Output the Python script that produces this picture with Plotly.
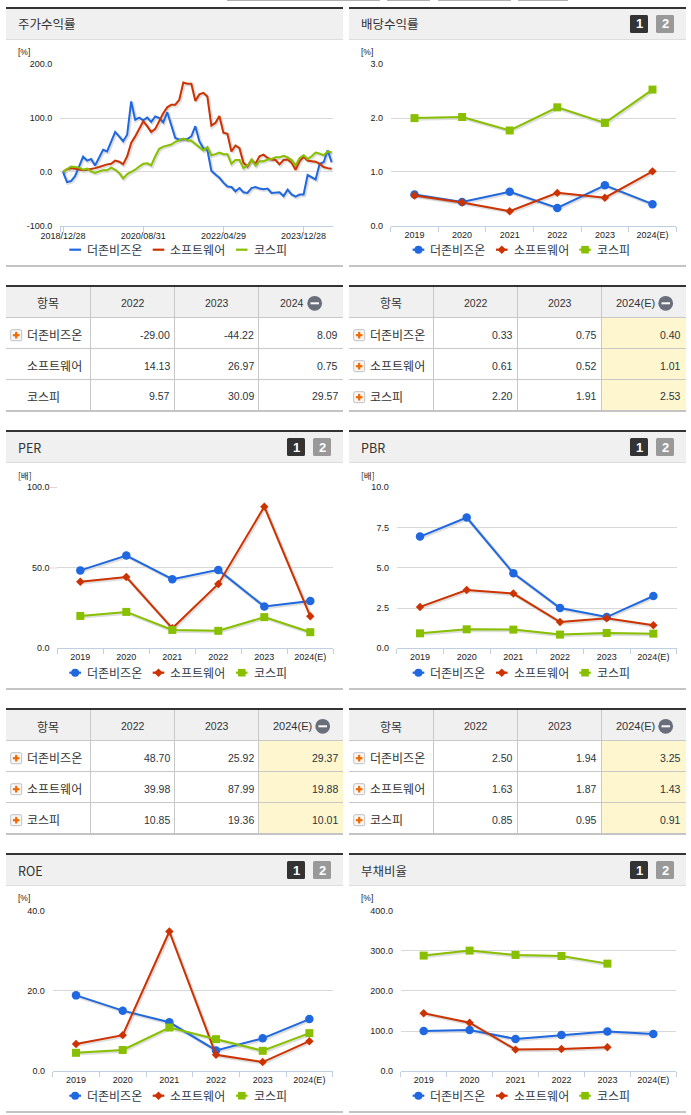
import plotly.graph_objects as go

W, H = 691, 1115

# ---------- data ----------
SERIES = ["더존비즈온", "소프트웨어", "코스피"]
COLORS = ["#2068e0", "#cc3300", "#88c000"]

RET_TICK_LABELS = ["2018/12/28", "2020/08/31", "2022/04/29", "2023/12/28"]
RET_TICK_INDEX = [0, 20, 40, 60]
RET_BLUE = [0, -19, -17, -8, 10, 28, 21, 24, 12, 26, 41, 38, 57, 74, 66, 57, 69, 131, 97, 101, 96, 101, 93, 103,
            100, 92, 111, 88, 63, 60, 61, 61, 66, 85, 57, 44, 41, 2, -5, -11, -20, -27, -28, -36, -30, -38, -39,
            -30, -28, -31, -32, -31, -39, -38, -38, -45, -33, -42, -46, -42, -42, -6, -10, -14, 15, 18, 40, 18]
RET_RED = [0, 5, 7, 6, 5, 3, 4, 5, 7, 9, 12, 14, 15, 21, 19, 14, 29, 54, 66, 81, 94, 85, 74, 80,
           94, 109, 120, 125, 125, 134, 166, 164, 164, 132, 144, 147, 140, 86, 91, 104, 73, 71, 38, 49, 44, 17,
           10, 22, 15, 29, 32, 26, 23, 22, 14, 22, 23, 17, 4, 20, 28, 21, 20, 19, 15, 9, 7, 6]
RET_GREEN = [0, 5, 10, 9, 8, 4, 6, 1, -2, 1, 3, 3, 8, 4, -2, -12, -4, 0, 4, 10, 15, 16, 12, 29,
             43, 47, 49, 51, 56, 59, 62, 59, 58, 52, 46, 40, 46, 31, 33, 36, 33, 33, 15, 22, 22, 7, 12, 23,
             12, 20, 20, 23, 24, 27, 27, 30, 27, 22, 12, 26, 31, 24, 29, 36, 34, 31, 38, 36]

YEARS = ["2019", "2020", "2021", "2022", "2023", "2024(E)"]
DIV = [[0.58, 0.44, 0.63, 0.33, 0.75, 0.40], [0.56, 0.43, 0.27, 0.61, 0.52, 1.01], [2.00, 2.02, 1.77, 2.20, 1.91, 2.53]]
PER = [[48.4, 57.6, 42.9, 48.70, 25.92, 29.37], [41.4, 44.3, 12.4, 39.98, 87.99, 19.88], [20.1, 22.6, 11.4, 10.85, 19.36, 10.01]]
PBR = [[6.94, 8.12, 4.66, 2.50, 1.94, 3.25], [2.57, 3.62, 3.40, 1.63, 1.87, 1.43], [0.93, 1.18, 1.16, 0.85, 0.95, 0.91]]
ROE = [[18.9, 15.1, 12.2, 5.2, 8.2, 13.0], [6.8, 9.0, 34.8, 4.1, 2.3, 7.5], [4.6, 5.3, 10.9, 8.0, 5.1, 9.5]]
DEBT = [[100.4, 103, 80.5, 90.5, 99, 93], [144.4, 121, 54, 55.6, 59.8, None], [288, 300.4, 289.6, 287, 268, None]]

TABLE_RET = [["-29.00", "-44.22", "8.09"], ["14.13", "26.97", "0.75"], ["9.57", "30.09", "29.57"]]
TABLE_DIV = [["0.33", "0.75", "0.40"], ["0.61", "0.52", "1.01"], ["2.20", "1.91", "2.53"]]
TABLE_PER = [["48.70", "25.92", "29.37"], ["39.98", "87.99", "19.88"], ["10.85", "19.36", "10.01"]]
TABLE_PBR = [["2.50", "1.94", "3.25"], ["1.63", "1.87", "1.43"], ["0.85", "0.95", "0.91"]]

# ---------- style ----------
KR = "'Noto Sans CJK KR', 'Noto Sans', sans-serif"
NUM = "'Liberation Sans', Arial, sans-serif"
TXT = "#333333"
AXIS = "#c0d0e0"
GRID = "#d8d8d8"
BORDER = "#c8c8c8"
SHADOW = "rgba(0,0,0,0.13)"

shapes, annos, traces = [], [], []
layout = {}


def px(x):
    return x / W


def py(y):
    return 1 - y / H


def rect(x0, y0, x1, y1, fill, layer="below"):
    shapes.append(dict(type="rect", xref="paper", yref="paper", x0=px(x0), x1=px(x1), y0=py(y0), y1=py(y1),
                       fillcolor=fill, line=dict(width=0), layer=layer))


def text(x, y, s, size=12, color=TXT, font=KR, anchor="left"):
    annos.append(dict(x=px(x), y=py(y), xref="paper", yref="paper", text=s, showarrow=False, xanchor=anchor,
                      yanchor="middle", align=anchor, borderpad=0, font=dict(size=size, color=color, family=font)))


def round_rect(x0, y0, x1, y1, r, fill, line=None):
    def P(x, y):
        return f"{px(x):.6f},{py(y):.6f}"
    d = (f"M{P(x0 + r, y0)} L{P(x1 - r, y0)} Q{P(x1, y0)} {P(x1, y0 + r)} L{P(x1, y1 - r)} Q{P(x1, y1)} {P(x1 - r, y1)} "
         f"L{P(x0 + r, y1)} Q{P(x0, y1)} {P(x0, y1 - r)} L{P(x0, y0 + r)} Q{P(x0, y0)} {P(x0 + r, y0)} Z")
    shapes.append(dict(type="path", xref="paper", yref="paper", path=d, fillcolor=fill,
                       line=dict(width=1 if line else 0, color=line or fill)))


def circle(cx, cy, r, fill):
    shapes.append(dict(type="circle", xref="paper", yref="paper", x0=px(cx - r), x1=px(cx + r), y0=py(cy - r),
                       y1=py(cy + r), fillcolor=fill, line=dict(width=0)))


def diamond(cx, cy, r, fill):
    d = f"M{px(cx - r):.6f},{py(cy):.6f} L{px(cx):.6f},{py(cy - r):.6f} L{px(cx + r):.6f},{py(cy):.6f} L{px(cx):.6f},{py(cy + r):.6f} Z"
    shapes.append(dict(type="path", xref="paper", yref="paper", path=d, fillcolor=fill, line=dict(width=0)))


def panel(x0, top, title, buttons=True):
    x1 = x0 + 337
    rect(x0, top, x1, top + 2, "#333333")
    rect(x0, top + 2, x1, top + 32, "#f0f0f0")
    rect(x0, top + 32, x1, top + 33, "#dddddd")
    rect(x0, top + 258, x1, top + 260, "#c4c4c4")
    text(x0 + 11, top + 17, title, size=12.5)
    if buttons:
        bx = x0 + 281
        round_rect(bx, top + 8, bx + 18, top + 26, 1.5, "#333333")
        round_rect(bx + 26, top + 8, bx + 44, top + 26, 1.5, "#999999")
        text(bx + 9, top + 17, "<b>1</b>", size=13, color="white", font=NUM, anchor="center")
        text(bx + 35, top + 17, "<b>2</b>", size=13, color="white", font=NUM, anchor="center")


def legend(dx, y, markers=True):
    glyph_x = [(69.3, 81), (152.7, 164.3), (236, 247.5)]
    text_x = [86, 169.2, 252.5]
    for i, name in enumerate(SERIES):
        g0, g1 = glyph_x[i]
        rect(dx + g0, y - 1.1, dx + g1, y + 1.1, COLORS[i], layer="above")
        cx = dx + (g0 + g1) / 2
        if markers:
            if i == 0:
                circle(cx, y, 4, COLORS[i])
            elif i == 1:
                diamond(cx, y, 4.3, COLORS[i])
            else:
                rect(cx - 3.8, y - 3.8, cx + 3.8, y + 3.8, COLORS[i], layer="above")
        text(dx + text_x[i], y - 0.6, name, size=12, color="#2f3a48")


def axes(n, left, right, top, bottom, ymin, ymax, yvals, ylabels):
    # subplots 1-6 hold the soft line shadows, 7-12 the visible axes drawn on top of them
    m = n + 6
    layout[f"xaxis{m}"] = dict(domain=[px(left), px(right)], anchor=f"y{m}", showgrid=False, zeroline=False,
                               showline=True, linecolor=AXIS, linewidth=1, ticks="outside", ticklen=5,
                               tickwidth=1, tickcolor=AXIS, ticklabelstandoff=0,
                               tickfont=dict(size=9, color="#222222", family=NUM), fixedrange=True)
    layout[f"yaxis{m}"] = dict(domain=[py(bottom), py(top)], anchor=f"x{m}", range=[ymin, ymax], tickmode="array",
                               tickvals=yvals, ticktext=ylabels, showgrid=True, gridcolor=GRID, gridwidth=1,
                               zeroline=False, showline=False, ticks="outside", ticklen=5, tickcolor="rgba(0,0,0,0)",
                               tickfont=dict(size=9, color="#222222", family=NUM), fixedrange=True)
    sfx = "" if n == 1 else str(n)
    layout["xaxis" + sfx] = dict(domain=[px(left + 1), px(right + 1)], anchor="y" + sfx, visible=False, fixedrange=True)
    layout["yaxis" + sfx] = dict(domain=[py(bottom + 1), py(top + 1)], anchor="x" + sfx, range=[ymin, ymax],
                                 visible=False, fixedrange=True)
    return f"x{m}", f"y{m}", "x" + sfx, "y" + sfx


def shadow_trace(xs, ys, xa, ya):
    traces.append(go.Scatter(x=xs, y=ys, mode="lines", xaxis=xa, yaxis=ya, showlegend=False, hoverinfo="skip",
                             line=dict(color=SHADOW, width=3.5)))


def year_chart(n, left, right, top, bottom, ymax, yvals, ylabels, data):
    xa, ya, sx, sy = axes(n, left, right, top, bottom, 0, ymax, yvals, ylabels)
    cat = dict(type="category", categoryorder="array", categoryarray=YEARS, range=[-0.5, 5.5])
    layout["xaxis" + xa[1:]].update(tickson="boundaries", **cat)
    layout["xaxis" + sx[1:]].update(**cat)
    symbols = ["circle", "diamond", "square"]
    sizes = [8.5, 6.5, 8]
    for i, name in enumerate(SERIES):
        shadow_trace(YEARS, data[i], sx, sy)
        traces.append(go.Scatter(x=YEARS, y=data[i], name=name, mode="lines+markers", xaxis=xa, yaxis=ya,
                                 showlegend=False, cliponaxis=False,
                                 line=dict(color=COLORS[i], width=2),
                                 marker=dict(symbol=symbols[i], size=sizes[i], color=COLORS[i], line=dict(width=0))))


def table(x0, top, last_head, rows, highlight, icons):
    x1 = x0 + 337
    rect(x0, top, x1, top + 2, "#333333")
    rect(x0, top + 2, x1, top + 32, "#f0f0f0")
    if highlight:
        rect(x0 + 253, top + 33, x1, top + 125, "#fdf6cf")
    for k in (32, 63, 94):
        rect(x0, top + k, x1, top + k + 1, BORDER)
    rect(x0, top + 125, x1, top + 127, "#c4c4c4")
    for c in (84, 168, 252):
        rect(x0 + c, top + 2, x0 + c + 1, top + 125, BORDER)
    text(x0 + 42, top + 18, "항목", anchor="center")
    text(x0 + 126.5, top + 18, "2022", size=10.5, font=NUM, anchor="center")
    text(x0 + 210.5, top + 18, "2023", size=10.5, font=NUM, anchor="center")
    short = last_head == "2024"
    text(x0 + (286 if short else 286.5), top + 18, last_head, size=10.5 if short else 11, font=NUM, anchor="center")
    ic = x0 + (308.7 if short else 316.7)
    circle(ic, top + 18.3, 7.4, "#6a6e7a")
    rect(ic - 4.2, top + 17.3, ic + 4.3, top + 19.3, "white", layer="above")
    for r in range(3):
        cy = top + 50 + 31 * r
        if icons[r]:
            round_rect(x0 + 4.7, cy - 5.3, x0 + 15.7, cy + 5.7, 1.5, "#f6f6f6", "#c0c0c0")
            rect(x0 + 6.9, cy - 0.9, x0 + 13.5, cy + 1.3, "#f06a00", layer="above")
            rect(x0 + 9.1, cy - 3.1, x0 + 11.3, cy + 3.5, "#f06a00", layer="above")
        text(x0 + 20, cy - 1, SERIES[r], size=12)
        for c in range(3):
            text(x0 + 164.5 + 84 * c, cy - 0.5, rows[r][c], size=10.5, font=NUM, color="#2a3440", anchor="right")


# ---------- top strip ----------
for a, b in ((227, 380), (387, 430), (438, 511), (518, 568)):
    rect(a, 0, b, 1, "#b0b0b0")

# ---------- panels ----------
LX, RX = 6, 349
panel(LX, 7, "주가수익률", buttons=False)
panel(RX, 7, "배당수익률")
panel(LX, 430, "PER")
panel(RX, 430, "PBR")
panel(LX, 853, "ROE")
panel(RX, 853, "부채비율")
for dx, y, mk in ((0, 249.7, False), (343.3, 249.7, True), (0, 672.7, True), (343.3, 672.7, True), (0, 1095.7, True), (343.3, 1095.7, True)):
    legend(dx, y, mk)
for x, y, u in ((17, 52, "[%]"), (360, 52, "[%]"), (17, 475, "[배]"), (360, 475, "[배]"), (17, 898, "[%]"), (360, 898, "[%]")):
    text(x, y, u, size=8.5, color="#222222", font=NUM if u == "[%]" else KR)

# ---------- return chart ----------
x0_px, step = 63.0, 4.01
left, right = 60.0, 332.7
xr = [(left - x0_px) / step, (right - x0_px) / step]
xa, ya, sx, sy = axes(1, left, right, 64.3, 225.7, -100, 200, [-100, 0, 100, 200], ["-100.0", "0.0", "100.0", "200.0"])
layout["xaxis7"].update(range=xr, tickmode="array", tickvals=[xr[0] + 0.02] + RET_TICK_INDEX,
                        ticktext=[""] + RET_TICK_LABELS, ticklabelstandoff=-4)
layout["xaxis"].update(range=xr)
for i, vals in enumerate((RET_BLUE, RET_RED, RET_GREEN)):
    xs = list(range(len(vals)))
    shadow_trace(xs, vals, sx, sy)
    traces.append(go.Scatter(x=xs, y=vals, name=SERIES[i], mode="lines", xaxis=xa, yaxis=ya,
                             showlegend=False, line=dict(color=COLORS[i], width=2)))

# ---------- yearly charts ----------
year_chart(2, 390.7, 676.3, 64.3, 225.7, 3, [0, 1, 2, 3], ["0.0", "1.0", "2.0", "3.0"], DIV)
year_chart(3, 57.3, 333.3, 487.3, 648.3, 100, [0, 50, 100], ["0.0", "50.0", "100.0"], PER)
rect(50, 487, 57.3, 488, GRID)
rect(50, 567.5, 57.3, 568.5, GRID)
year_chart(4, 396.7, 676.7, 487.3, 648.3, 10, [0, 2.5, 5, 7.5, 10], ["0.0", "2.5", "5.0", "7.5", "10.0"], PBR)
year_chart(5, 52.7, 332.7, 910.6, 1071.3, 40, [0, 20, 40], ["0.0", "20.0", "40.0"], ROE)
year_chart(6, 400.7, 676.3, 910.6, 1071.3, 400, [0, 100, 200, 300, 400], ["0.0", "100.0", "200.0", "300.0", "400.0"], DEBT)

# ---------- tables ----------
table(LX, 285, "2024", TABLE_RET, False, [True, False, False])
table(RX, 285, "2024(E)", TABLE_DIV, True, [True, True, True])
table(LX, 708, "2024(E)", TABLE_PER, True, [True, True, True])
table(RX, 708, "2024(E)", TABLE_PBR, True, [True, True, True])

fig = go.Figure(data=traces)
fig.update_layout(width=W, height=H, margin=dict(l=0, r=0, t=0, b=0, pad=0, autoexpand=False), paper_bgcolor="white",
                  plot_bgcolor="rgba(0,0,0,0)", showlegend=False, shapes=shapes, annotations=annos,
                  font=dict(family=KR), **layout)
fig.write_html("out.html", config={"displayModeBar": False, "responsive": False},
               post_script="document.body.style.margin='0';document.body.style.overflow='hidden';")
